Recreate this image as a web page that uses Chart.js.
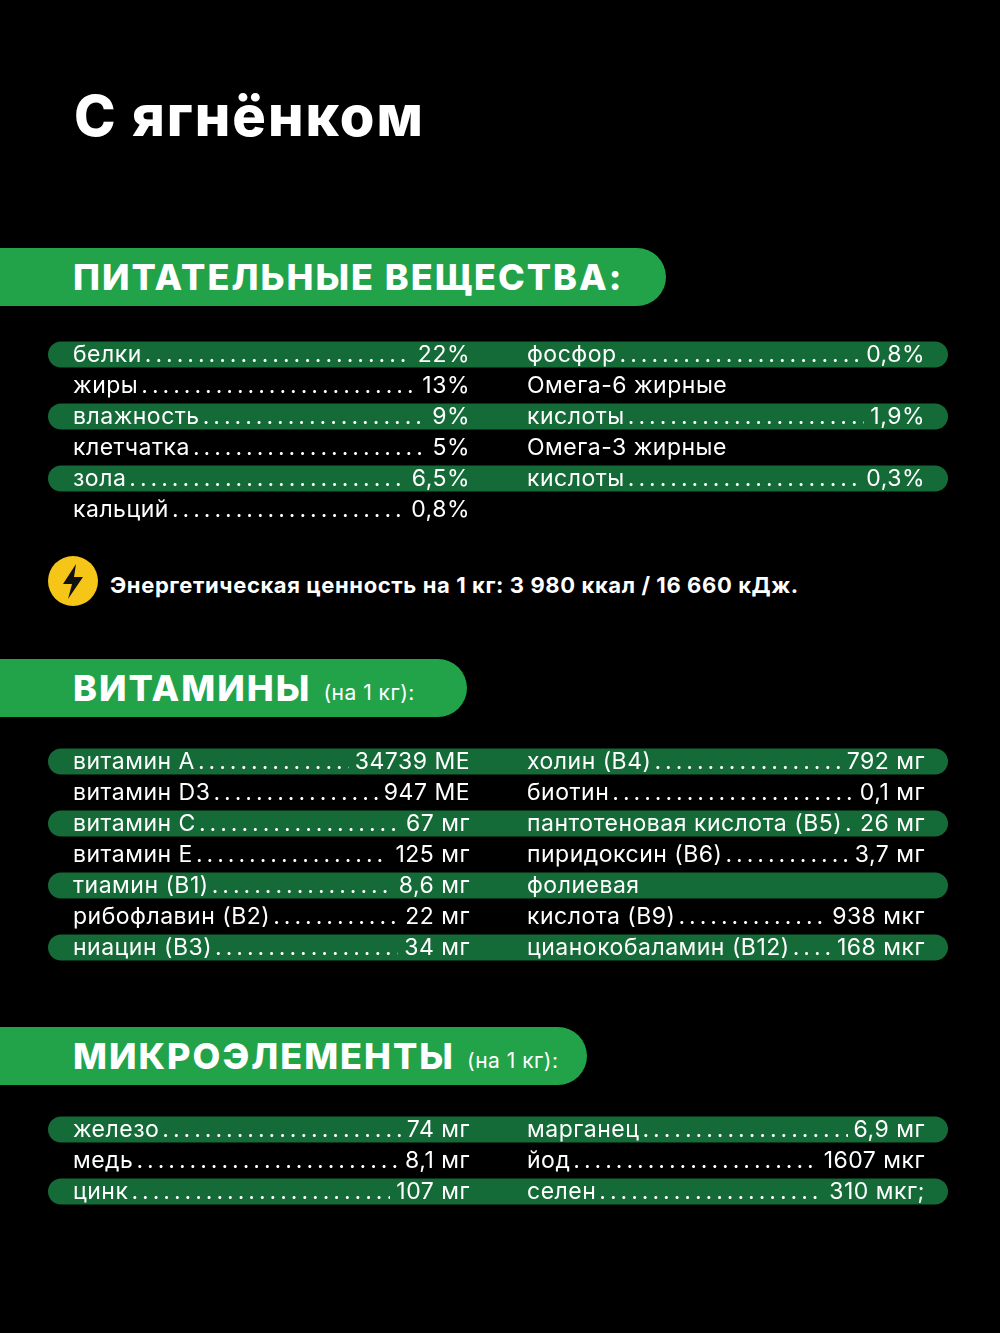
<!DOCTYPE html>
<html><head><meta charset="utf-8">
<script src="https://cdn.jsdelivr.net/npm/chart.js@4/dist/chart.umd.min.js"></script>
<style>
body{margin:0;background:#000;width:1000px;height:1333px;overflow:hidden;font-family:Inter,"Open Sans",sans-serif;color:#fff;position:relative}
.abs{position:absolute}
h1{position:absolute;left:74px;top:82px;margin:0;font-size:56px;font-weight:800;letter-spacing:2px}
.pill{position:absolute;left:0;height:58px;background:#22a34a;border-radius:0 30px 30px 0;display:flex;align-items:center;padding-left:73px;box-sizing:border-box;font-weight:800;font-size:36px;letter-spacing:2px}
.pill small{font-size:21px;font-weight:400;margin-left:12px;margin-top:8px;letter-spacing:0.5px}
.tbl{position:absolute;left:48px;width:900px}
.txt{position:absolute;left:0;top:0;width:100%;height:100%}
.row{position:absolute;height:31px;display:flex;align-items:center;font-size:23px;white-space:nowrap;letter-spacing:0.5px}
.row .l{flex:none}
.row .d{flex:1;overflow:hidden;letter-spacing:4px;margin:0 6px 0 3px}
.row .v{flex:none}
.energy{position:absolute;left:110px;top:572px;font-size:22px;font-weight:700;letter-spacing:0.6px}
</style></head><body>
<h1>С ягнёнком</h1>
<div class="pill" style="top:248px;width:666px">ПИТАТЕЛЬНЫЕ ВЕЩЕСТВА:</div>
<div class="pill" style="top:659px;width:467px">ВИТАМИНЫ<small>(на 1 кг):</small></div>
<div class="pill" style="top:1027px;width:587px">МИКРОЭЛЕМЕНТЫ<small>(на 1 кг):</small></div>
<svg class="abs" style="left:47px;top:555px" width="52" height="52" viewBox="0 0 52 52"><circle cx="26" cy="26" r="25" fill="#f5c518"/><path d="M29 9 L16 29 H25 L21 44 L36 22 H27 Z" fill="#111"/></svg>
<div class="energy">Энергетическая ценность на 1 кг: 3 980 ккал / 16 660 кДж.</div>
<div class="tbl" id="t1" style="top:338.5px;height:186px"><canvas></canvas><div class="txt"></div></div>
<div class="tbl" id="t2" style="top:745.5px;height:217px"><canvas></canvas><div class="txt"></div></div>
<div class="tbl" id="t3" style="top:1113.5px;height:93px"><canvas></canvas><div class="txt"></div></div>
<script>
const nutrLeftLabels=["белки","жиры","влажность","клетчатка","зола","кальций"];
const nutrLeftValues=["22%","13%","9%","5%","6,5%","0,8%"];
const nutrRightLabels=["фосфор","Омега-6 жирные","кислоты","Омега-3 жирные","кислоты",""];
const nutrRightValues=["0,8%","","1,9%","","0,3%",""];
const vitLeftLabels=["витамин A","витамин D3","витамин C","витамин E","тиамин (B1)","рибофлавин (B2)","ниацин (B3)"];
const vitLeftValues=["34739 МЕ","947 МЕ","67 мг","125 мг","8,6 мг","22 мг","34 мг"];
const vitRightLabels=["холин (B4)","биотин","пантотеновая кислота (B5)","пиридоксин (B6)","фолиевая","кислота (B9)","цианокобаламин (B12)"];
const vitRightValues=["792 мг","0,1 мг","26 мг","3,7 мг","","938 мкг","168 мкг"];
const microLeftLabels=["железо","медь","цинк"];
const microLeftValues=["74 мг","8,1 мг","107 мг"];
const microRightLabels=["марганец","йод","селен"];
const microRightValues=["6,9 мг","1607 мкг","310 мкг;"];

function build(id,ll,lv,rl,rv){
  const el=document.getElementById(id);
  const n=ll.length;
  const cats=ll.map((_,i)=>String(i));
  new Chart(el.querySelector('canvas'),{type:'bar',
    data:{labels:cats,datasets:[{data:cats.map((_,i)=>i%2===0?[0,1]:null),backgroundColor:'#146b37',
      borderRadius:13,borderSkipped:false,categoryPercentage:1,barPercentage:0.84}]},
    options:{indexAxis:'y',responsive:true,maintainAspectRatio:false,animation:false,
      layout:{padding:0},plugins:{legend:{display:false},tooltip:{enabled:false}},
      scales:{x:{display:false,min:0,max:1},y:{display:false}}}});
  const t=el.querySelector('.txt');
  const dots='.'.repeat(80);
  const mk=(lab,val)=>{
    if(!lab) return '';
    return `<div class="l">${lab}</div>`+(val!==''?`<div class="d">${dots}</div><div class="v">${val}</div>`:'');
  };
  for(let i=0;i<n;i++){
    const top=i*31;
    t.insertAdjacentHTML('beforeend',`<div class="row" style="left:25px;width:397px;top:${top}px">${mk(ll[i],lv[i])}</div>`);
    t.insertAdjacentHTML('beforeend',`<div class="row" style="left:479px;width:398px;top:${top}px">${mk(rl[i],rv[i])}</div>`);
  }
}
build('t1',nutrLeftLabels,nutrLeftValues,nutrRightLabels,nutrRightValues);
build('t2',vitLeftLabels,vitLeftValues,vitRightLabels,vitRightValues);
build('t3',microLeftLabels,microLeftValues,microRightLabels,microRightValues);
</script>
</body></html>
